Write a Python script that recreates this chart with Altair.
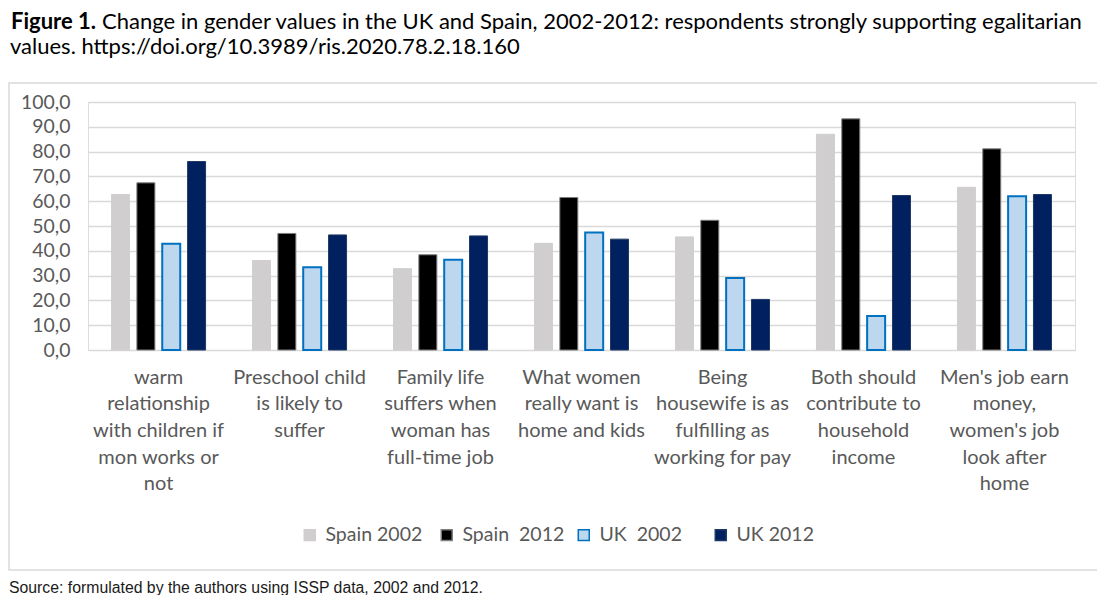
import altair as alt
import pandas as pd

# Category labels (line breaks marked with "|")
categories = [
    "warm|relationship|with children if|mon works or|not",
    "Preschool child|is likely to|suffer",
    "Family life|suffers when|woman has|full-time job",
    "What women|really want is|home and kids",
    "Being|housewife is as|fulfilling as|working for pay",
    "Both should|contribute to|household|income",
    "Men's job earn|money,|women's job|look after|home",
]
series = ["Spain 2002", "Spain \u00a02012", "UK \u00a02002", "UK 2012"]
spain_2002 = [62.7, 36.1, 32.8, 43.0, 45.6, 87.0, 65.6]
spain_2012 = [67.4, 47.0, 38.4, 61.5, 52.3, 93.2, 81.1]
uk_2002 = [42.8, 33.4, 36.4, 47.4, 29.0, 13.7, 62.0]
uk_2012 = [76.0, 46.4, 46.0, 44.7, 20.4, 62.3, 62.7]
y_ticks = [0, 10, 20, 30, 40, 50, 60, 70, 80, 90, 100]

fills = ["#d0cece", "#000000", "#bdd7ee", "#002060"]
strokes = ["#d0cece", "#7f7f7f", "#0070c0", "#1f3864"]

rows = []
for s, vals in zip(series, [spain_2002, spain_2012, uk_2002, uk_2012]):
    for c, v in zip(categories, vals):
        rows.append({"category": c, "series": s, "value": v})
df = pd.DataFrame(rows)

W, H = 987, 248
FONT = "Lato"

legend_kw = dict(title=None, orient="none", legendX=212, legendY=423,
                 direction="horizontal", columns=4, gridAlign="all",
                 symbolType="square", symbolSize=120, symbolStrokeWidth=1.5,
                 labelFontSize=19.5, labelColor="#595959", labelFont=FONT,
                 labelOffset=6, columnPadding=9)

bars = alt.Chart(df).mark_bar().encode(
    x=alt.X("category:N", sort=categories, title=None,
            scale=alt.Scale(paddingInner=0.333, paddingOuter=0.167),
            axis=alt.Axis(labelExpr="split(datum.label, '|')", labelAngle=0,
                          labelLineHeight=26.7, labelPadding=17, labelBaseline="top",
                          labelFontSize=20, labelColor="#595959", labelFont=FONT,
                          labelOverlap=False, labelLimit=300,
                          ticks=False, tickSize=0, domain=False, grid=False)),
    xOffset=alt.XOffset("series:N", sort=series,
                        scale=alt.Scale(paddingInner=0.29, paddingOuter=0)),
    y=alt.Y("value:Q", title=None,
            scale=alt.Scale(domain=[0, 100], nice=False),
            axis=alt.Axis(values=y_ticks,
                          labelExpr="replace(format(datum.value, '.1f'), '.', ',')",
                          labelFontSize=19.4, labelColor="#595959", labelFont=FONT,
                          labelPadding=18, ticks=False, tickSize=0, domain=False,
                          grid=True, gridColor="#d9d9d9", gridWidth=1.5)),
    color=alt.Color("series:N", sort=series,
                    scale=alt.Scale(domain=series, range=fills),
                    legend=alt.Legend(**legend_kw)),
    stroke=alt.Stroke("series:N", sort=series,
                      scale=alt.Scale(domain=series, range=strokes),
                      legend=alt.Legend(**legend_kw)),
    strokeWidth=alt.condition(alt.datum.series == series[2], alt.value(2), alt.value(1)),
)

box = alt.Chart(pd.DataFrame({"k": [0]})).mark_rect(
    fill=None, stroke="#d9d9d9", strokeWidth=1.5
).encode(x=alt.value(-79), x2=alt.value(1012), y=alt.value(-19), y2=alt.value(468))

title_bold = alt.Chart(pd.DataFrame({"t": ["Figure 1."]})).mark_text(
    align="left", baseline="middle", font=FONT, fontSize=22, fontWeight="bold", color="#000000"
).encode(text="t:N", x=alt.value(-77), y=alt.value(-80))

title_rest = alt.Chart(pd.DataFrame({"t": [
    "Change in gender values in the UK and Spain, 2002-2012: respondents strongly supporting egalitarian"
]})).mark_text(
    align="left", baseline="middle", font=FONT, fontSize=22, color="#000000"
).encode(text="t:N", x=alt.value(14), y=alt.value(-80))

title_line2 = alt.Chart(pd.DataFrame({"t": ["values. https://doi.org/10.3989/ris.2020.78.2.18.160"]})).mark_text(
    align="left", baseline="middle", font=FONT, fontSize=22, color="#000000"
).encode(text="t:N", x=alt.value(-78), y=alt.value(-55))

source = alt.Chart(pd.DataFrame({"t": ["Source: formulated by the authors using ISSP data, 2002 and 2012."]})).mark_text(
    align="left", baseline="middle", font="Liberation Sans", fontSize=15.8, color="#1a1a1a"
).encode(text="t:N", x=alt.value(-79), y=alt.value(486))

chart = alt.layer(box, bars, title_bold, title_rest, title_line2, source).properties(
    width=W, height=H,
    autosize=alt.AutoSizeParams(type="none"),
    padding={"left": 80, "top": 94, "right": 22, "bottom": 245},
    background="white",
).configure_view(stroke=None).configure(font=FONT)

chart.save("out.html", embed_options={"renderer": "svg", "actions": False})
